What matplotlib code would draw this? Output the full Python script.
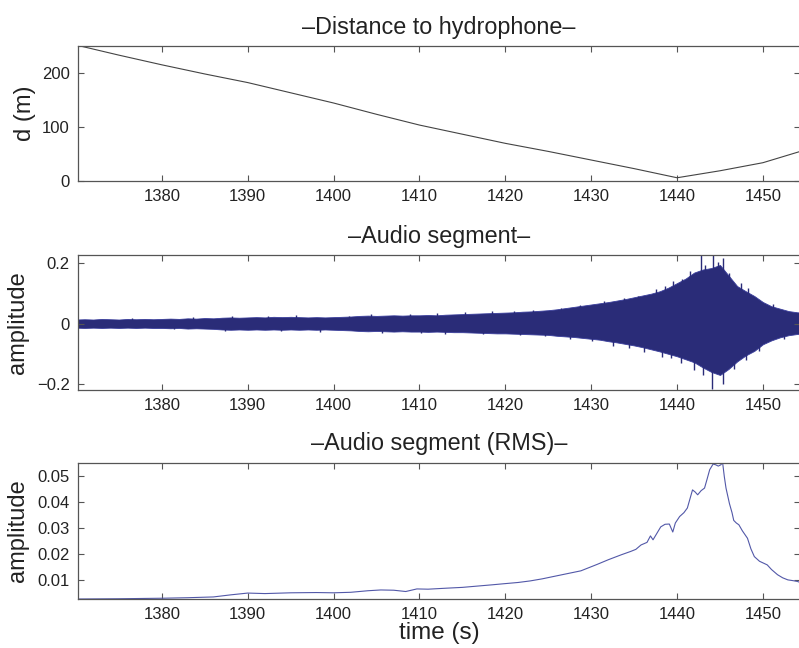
import matplotlib.pyplot as plt
import numpy as np

# distance to hydrophone (m)
dist_time = [1370.23, 1375, 1380, 1385, 1390, 1395, 1400, 1405, 1410, 1415,
             1420, 1425, 1430, 1435, 1440, 1445, 1450, 1454.35]
dist_m = [252, 234, 216, 199, 183, 164, 145, 124, 104, 87,
          70, 55, 39, 23, 6, 19, 34, 55]

# audio waveform envelope, 1 s steps from 1370 to 1455
env_time = list(range(1370, 1456))
env_upper = [0.014, 0.015, 0.014, 0.016, 0.015, 0.014, 0.016, 0.015, 0.016, 0.015,
             0.016, 0.017, 0.016, 0.018, 0.017, 0.019, 0.018, 0.020, 0.021, 0.020,
             0.021, 0.022, 0.021, 0.023, 0.022, 0.023, 0.022, 0.021, 0.022, 0.021,
             0.022, 0.023, 0.024, 0.026, 0.027, 0.026, 0.027, 0.028, 0.027, 0.028,
             0.028, 0.029, 0.028, 0.030, 0.031, 0.032, 0.033, 0.034, 0.035, 0.036,
             0.037, 0.038, 0.040, 0.041, 0.043, 0.045, 0.048, 0.052, 0.056, 0.060,
             0.064, 0.068, 0.072, 0.077, 0.082, 0.088, 0.094, 0.100, 0.108, 0.120,
             0.135, 0.150, 0.170, 0.180, 0.185, 0.195, 0.160, 0.125, 0.108, 0.092,
             0.072, 0.058, 0.050, 0.042, 0.038, 0.036]
env_lower = [0.013, 0.014, 0.013, 0.014, 0.013, 0.014, 0.013, 0.014, 0.013, 0.014,
             0.014, 0.015, 0.014, 0.016, 0.015, 0.016, 0.017, 0.019, 0.020, 0.019,
             0.020, 0.019, 0.020, 0.019, 0.020, 0.019, 0.020, 0.019, 0.020, 0.019,
             0.020, 0.021, 0.022, 0.024, 0.025, 0.024, 0.025, 0.026, 0.025, 0.026,
             0.026, 0.027, 0.026, 0.027, 0.028, 0.028, 0.029, 0.030, 0.031, 0.032,
             0.032, 0.033, 0.034, 0.035, 0.036, 0.037, 0.040, 0.042, 0.044, 0.047,
             0.050, 0.053, 0.058, 0.062, 0.067, 0.072, 0.078, 0.085, 0.092, 0.100,
             0.108, 0.118, 0.128, 0.145, 0.160, 0.170, 0.150, 0.125, 0.105, 0.090,
             0.068, 0.055, 0.045, 0.038, 0.034, 0.032]

# isolated peaks sticking out of the envelope
spike_up_time = [1376.5, 1383.6, 1388.2, 1392.4, 1395.6, 1401.8, 1404.3, 1408.9,
                 1412.0, 1415.3, 1418.5, 1421.0, 1423.2, 1426.5, 1428.7, 1431.5,
                 1433.8, 1435.5, 1437.5, 1438.6, 1439.5, 1440.6, 1441.5, 1442.8,
                 1443.3, 1444.2, 1444.8, 1445.3, 1446.0, 1447.4, 1448.3, 1451.2]
spike_up_val = [0.020, 0.023, 0.026, 0.027, 0.028, 0.027, 0.031, 0.032,
                0.035, 0.038, 0.042, 0.043, 0.046, 0.052, 0.062, 0.074,
                0.084, 0.092, 0.115, 0.125, 0.142, 0.150, 0.175, 0.229,
                0.195, 0.229, 0.205, 0.218, 0.170, 0.135, 0.118, 0.065]
spike_dn_time = [1381.4, 1387.3, 1393.9, 1398.4, 1405.6, 1410.2, 1413.0, 1417.4,
                 1421.7, 1424.6, 1427.5, 1430.1, 1432.5, 1434.4, 1436.2, 1438.2,
                 1439.3, 1440.5, 1442.0, 1443.0, 1444.1, 1445.4, 1446.6, 1448.0,
                 1449.5, 1452.4]
spike_dn_val = [0.018, 0.023, 0.024, 0.028, 0.030, 0.030, 0.033, 0.035,
                0.038, 0.040, 0.050, 0.058, 0.075, 0.080, 0.095, 0.110,
                0.115, 0.130, 0.155, 0.170, 0.215, 0.200, 0.150, 0.120,
                0.090, 0.052]

# RMS of the audio segment
rms_time = [1370.2, 1375, 1380, 1383, 1386, 1388, 1390, 1392, 1395, 1398,
            1400, 1402, 1404, 1405.5, 1407, 1408.4, 1409.7, 1411, 1413.2, 1415,
            1417.1, 1418.5, 1419.8, 1421.5, 1422.9, 1424.3, 1425.6, 1427.2, 1428.8, 1430.7,
            1432, 1433.5, 1434.6, 1435.2, 1435.8, 1436.5, 1436.9, 1437.2, 1438.1, 1438.6,
            1439.1, 1439.5, 1439.8, 1440.3, 1440.8, 1441.2, 1441.8, 1442.1, 1442.4, 1442.8,
            1443.2, 1443.5, 1443.8, 1444.2, 1444.5, 1444.8, 1445.1, 1445.3, 1445.5, 1445.7,
            1446.1, 1446.4, 1446.6, 1446.9, 1447.2, 1447.6, 1448.2, 1448.6, 1449.0, 1449.6,
            1450.5, 1451.0, 1451.7, 1452.3, 1452.9, 1453.5, 1454.0, 1454.35]
rms_amp = [0.0026, 0.0027, 0.0029, 0.0031, 0.0034, 0.0042, 0.0049, 0.0047, 0.0050, 0.0051,
           0.0050, 0.0052, 0.0058, 0.0061, 0.0060, 0.0055, 0.0065, 0.0064, 0.0068, 0.0071,
           0.0077, 0.0081, 0.0085, 0.0090, 0.0096, 0.0104, 0.0113, 0.0124, 0.0135, 0.0160,
           0.0178, 0.0197, 0.0210, 0.0218, 0.0235, 0.0245, 0.0270, 0.0255, 0.0305, 0.0315,
           0.0316, 0.0285, 0.0320, 0.0345, 0.0360, 0.0378, 0.0448, 0.0440, 0.0429, 0.0445,
           0.0455, 0.0490, 0.0526, 0.0548, 0.0545, 0.0540, 0.0545, 0.0555, 0.0500, 0.0455,
           0.0395, 0.0360, 0.0330, 0.0320, 0.0313, 0.0290, 0.0261, 0.0220, 0.0190, 0.0172,
           0.0158, 0.0140, 0.0120, 0.0108, 0.0100, 0.0097, 0.0094, 0.0090]

time_ticks = [1380, 1390, 1400, 1410, 1420, 1430, 1440, 1450]
x_range = (1370.23, 1454.35)

plt.rcParams["font.family"] = ["Liberation Sans", "DejaVu Sans"]
AXIS_COLOR = "#555555"
TEXT_COLOR = "#222222"
WAVE_COLOR = "#2a2c78"
EDGE_COLOR = "#3a3e9c"
RMS_COLOR = "#5258a8"


def style_axes(ax):
    ax.set_xlim(*x_range)
    ax.set_xticks(time_ticks)
    ax.tick_params(direction="in", length=4, width=0.8, color=AXIS_COLOR,
                   labelcolor=TEXT_COLOR, labelsize=12, top=True, right=True, pad=6)
    for spine in ax.spines.values():
        spine.set_color(AXIS_COLOR)
        spine.set_linewidth(0.9)


fig = plt.figure(figsize=(7.99, 6.48), dpi=100)
left, width = 0.0976, 0.9040

ax_d = fig.add_axes([left, 0.7207, width, 0.2083])
ax_d.plot(dist_time, dist_m, color="#444444", linewidth=0.8)
style_axes(ax_d)
ax_d.set_ylim(0, 251)
ax_d.set_yticks([0, 100, 200])
ax_d.set_title("\u2013Distance to hydrophone\u2013", fontsize=16.8, pad=9, color=TEXT_COLOR)
ax_d.set_ylabel("d (m)", fontsize=17, color=TEXT_COLOR)
ax_d.yaxis.set_label_coords(-0.058, 0.5)

ax_a = fig.add_axes([left, 0.3981, width, 0.2083])
upper = np.array(env_upper)
lower = -np.array(env_lower)
ax_a.vlines(spike_up_time, 0, spike_up_val, color=WAVE_COLOR, linewidth=1.0)
ax_a.vlines(spike_dn_time, -np.array(spike_dn_val), 0, color=WAVE_COLOR, linewidth=1.0)
ax_a.fill_between(env_time, lower, upper, color=WAVE_COLOR, linewidth=0.6,
                  edgecolor=EDGE_COLOR)
ax_a.fill_between(env_time, lower * 0.9, upper * 0.9, color=WAVE_COLOR, linewidth=0)
style_axes(ax_a)
ax_a.set_ylim(-0.22, 0.228)
ax_a.set_yticks([-0.2, 0, 0.2])
ax_a.set_yticklabels(["\u22120.2", "0", "0.2"])
ax_a.set_title("\u2013Audio segment\u2013", fontsize=16.8, pad=9, color=TEXT_COLOR)
ax_a.set_ylabel("amplitude", fontsize=17, color=TEXT_COLOR)
ax_a.yaxis.set_label_coords(-0.068, 0.5)

ax_r = fig.add_axes([left, 0.0756, width, 0.2099])
ax_r.plot(rms_time, rms_amp, color=RMS_COLOR, linewidth=0.8)
style_axes(ax_r)
ax_r.set_ylim(0.0026, 0.0552)
ax_r.set_yticks([0.01, 0.02, 0.03, 0.04, 0.05])
ax_r.set_yticklabels(["0.01", "0.02", "0.03", "0.04", "0.05"])
ax_r.set_title("\u2013Audio segment (RMS)\u2013", fontsize=16.8, pad=9, color=TEXT_COLOR)
ax_r.set_ylabel("amplitude", fontsize=17, color=TEXT_COLOR)
ax_r.yaxis.set_label_coords(-0.068, 0.5)
ax_r.set_xlabel("time (s)", fontsize=17.5, color=TEXT_COLOR, labelpad=0)

fig.savefig("out.png", dpi=100)
